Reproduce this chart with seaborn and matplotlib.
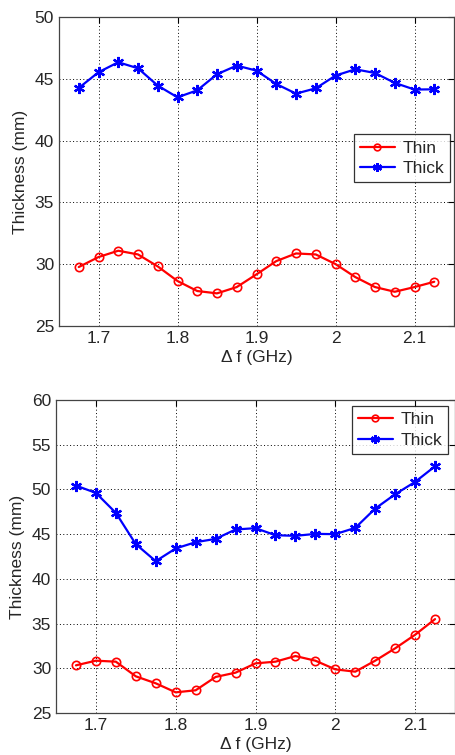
import numpy as np
import pandas as pd
import matplotlib
matplotlib.use("Agg")
import matplotlib.pyplot as plt
import seaborn as sns

# datos
frecuencia = [1.675, 1.7, 1.725, 1.75, 1.775, 1.8, 1.825, 1.85, 1.875, 1.9,
              1.925, 1.95, 1.975, 2.0, 2.025, 2.05, 2.075, 2.1, 2.125]

arriba_thin = [29.77, 30.58, 31.09, 30.79, 29.82, 28.64, 27.83, 27.64, 28.15, 29.18,
               30.25, 30.87, 30.79, 30.01, 28.96, 28.15, 27.77, 28.15, 28.58]
arriba_thick = [44.26, 45.53, 46.34, 45.85, 44.45, 43.50, 44.07, 45.37, 46.07, 45.66,
                44.58, 43.80, 44.23, 45.26, 45.77, 45.47, 44.67, 44.13, 44.15]

abajo_thin = [30.33, 30.85, 30.74, 29.10, 28.32, 27.31, 27.54, 29.03, 29.51, 30.55,
              30.74, 31.37, 30.85, 29.88, 29.62, 30.85, 32.23, 33.75, 35.50]
abajo_thick = [50.43, 49.61, 47.38, 43.88, 41.98, 43.40, 44.10, 44.47, 45.52, 45.67,
               44.88, 44.81, 45.03, 45.00, 45.70, 47.86, 49.46, 50.84, 52.59]

xticks = [1.7, 1.8, 1.9, 2.0, 2.1]
xtick_labels = ["1.7", "1.8", "1.9", "2", "2.1"]

sns.set_style("white")
plt.rcParams['font.family'] = ['Liberation Sans', 'DejaVu Sans']

fig = plt.figure(figsize=(4.56, 7.55), dpi=100)
ax1 = fig.add_axes([59/456, 1 - 326/755, 395/456, 309/755])
ax2 = fig.add_axes([56/456, 1 - 713/755, 399/456, 313/755])


def dibujar(ax, thin, thick, ylim, yticks):
    df = pd.DataFrame({"f": frecuencia * 2,
                       "t": thin + thick,
                       "serie": ["Thin"] * len(thin) + ["Thick"] * len(thick)})
    sns.lineplot(data=df[df.serie == "Thin"], x="f", y="t", ax=ax, color="#ff0000",
                 marker="o", markerfacecolor="none", markeredgecolor="#ff0000",
                 markersize=6, markeredgewidth=1.2, linewidth=1.6, label="Thin")
    # asterisco estilo MATLAB
    sns.lineplot(data=df[df.serie == "Thick"], x="f", y="t", ax=ax, color="#0000ff",
                 marker=(6, 2, 0), markerfacecolor="#0000ff", markeredgecolor="#0000ff",
                 markersize=8, markeredgewidth=1.6, linewidth=1.6, label="Thick")
    ax.set_xlim(1.65, 2.15)
    ax.set_ylim(*ylim)
    ax.set_xticks(xticks)
    ax.set_xticklabels(xtick_labels)
    ax.set_yticks(yticks)
    ax.grid(True, color="black", linestyle=(0, (1, 2.5)), linewidth=0.7)
    ax.tick_params(direction="in", length=4, labelsize=12.5, top=True, right=True,
                   color="black", width=0.8)
    for s in ax.spines.values():
        s.set_color("#444444")
        s.set_linewidth(0.9)
    ax.set_xlabel("\u0394 f (GHz)", fontsize=12.5, labelpad=3)
    ax.set_ylabel("Thickness (mm)", fontsize=12.5, labelpad=5)
    leg = ax.legend(loc="upper right", fontsize=12.5, frameon=True, fancybox=False,
                    edgecolor="black", handlelength=2.05, borderpad=0.35,
                    labelspacing=0.3, handletextpad=0.4, borderaxespad=0.0,
                    markerscale=0.8)
    leg.get_frame().set_linewidth(0.9)
    return leg


dibujar(ax1, arriba_thin, arriba_thick, (25, 50), [25, 30, 35, 40, 45, 50])
ax1.get_legend().set_bbox_to_anchor((0.99, 0.62), transform=ax1.transAxes)

dibujar(ax2, abajo_thin, abajo_thick, (25, 60), [25, 30, 35, 40, 45, 50, 55, 60])
ax2.get_legend().set_bbox_to_anchor((0.9825, 0.98), transform=ax2.transAxes)

fig.savefig("out.png", dpi=100, facecolor="white")
